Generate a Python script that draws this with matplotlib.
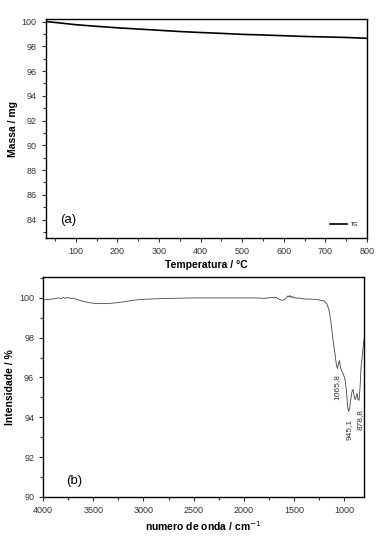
import matplotlib.pyplot as plt
from matplotlib.ticker import MultipleLocator

plt.rcParams['font.family'] = ['Liberation Sans', 'DejaVu Sans']

# (a) TG curve
temp = [30, 60, 100, 150, 200, 250, 300, 350, 400, 450, 500, 550, 600, 650, 700, 750, 800]
massa = [100.0, 99.9, 99.75, 99.62, 99.5, 99.4, 99.3, 99.2, 99.12, 99.05, 98.97, 98.92, 98.86, 98.8, 98.76, 98.72, 98.65]

# (b) IR spectrum
onda = [4000, 3950, 3900, 3850, 3820, 3800, 3780, 3760, 3740, 3720, 3700, 3680, 3650,
        3600, 3550, 3500, 3450, 3400, 3350, 3300, 3200, 3100, 3000, 2900, 2800, 2700,
        2600, 2500, 2300, 2100, 1900, 1800, 1750, 1720, 1700, 1680, 1660, 1640, 1620,
        1600, 1580, 1560, 1550, 1540, 1530, 1520, 1510, 1500, 1480, 1460, 1400, 1300,
        1250, 1200, 1170, 1150, 1130, 1110, 1090, 1075, 1065, 1055, 1045, 1035, 1020,
        1005, 990, 975, 965, 955, 945, 935, 920, 910, 900, 890, 880, 870, 860, 850,
        840, 830, 820, 810, 800]
intens = [99.9, 99.92, 99.95, 100.0, 99.97, 100.02, 99.98, 100.01, 100.0, 99.97, 99.99, 99.95, 99.9,
          99.83, 99.77, 99.73, 99.72, 99.71, 99.72, 99.74, 99.8, 99.88, 99.93, 99.95, 99.97, 99.98,
          99.99, 100.0, 100.0, 100.0, 100.0, 99.98, 100.0, 100.03, 100.0, 100.04, 99.97, 99.92, 99.88,
          99.9, 99.97, 100.1, 100.05, 100.12, 100.03, 100.08, 100.0, 100.05, 99.98, 100.0, 99.95, 99.93,
          99.9, 99.85, 99.7, 99.4, 98.8, 97.9, 97.2, 96.6, 96.45, 96.7, 96.85, 96.5, 96.3,
          96.15, 95.9, 95.3, 94.6, 94.3, 94.4, 94.8, 95.3, 95.4, 95.1, 94.9, 95.0, 95.2, 94.9, 94.85,
          95.5, 96.5, 97.0, 97.5, 97.9]

picos = ['1065,8', '945,1', '878,8']
picos_x = [1075, 945, 840]
picos_y = [95.5, 93.4, 93.9]

fig = plt.figure(figsize=(3.82, 5.40), dpi=100)
ax1 = fig.add_axes([0.120, 0.559, 0.841, 0.406])
ax2 = fig.add_axes([0.113, 0.080, 0.840, 0.407])

ax1.plot(temp, massa, color='black', lw=1.2, label='TG')
ax1.set_xlim(28, 800)
ax1.set_ylim(82.5, 100.22)
ax1.xaxis.set_major_locator(MultipleLocator(100))
ax1.xaxis.set_minor_locator(MultipleLocator(50))
ax1.yaxis.set_major_locator(MultipleLocator(2))
ax1.yaxis.set_minor_locator(MultipleLocator(1))
ax1.set_xlabel('Temperatura / °C', fontsize=7.5, fontweight='bold', labelpad=3)
ax1.set_ylabel('Massa / mg', fontsize=7.5, fontweight='bold', labelpad=3)
ax1.text(0.045, 0.07, '(a)', transform=ax1.transAxes, fontsize=9.5)
ax1.legend(loc='lower right', fontsize=4, frameon=False, handlelength=3,
           bbox_to_anchor=(0.99, 0.03))

ax2.plot(onda, intens, color='#444444', lw=0.6)
ax2.set_xlim(4000, 800)
ax2.set_ylim(90, 101.05)
ax2.xaxis.set_major_locator(MultipleLocator(500))
ax2.xaxis.set_minor_locator(MultipleLocator(250))
ax2.yaxis.set_major_locator(MultipleLocator(2))
ax2.yaxis.set_minor_locator(MultipleLocator(1))
ax2.set_xlabel('numero de onda / cm$^{-1}$', fontsize=7.5, fontweight='bold', labelpad=3)
ax2.set_ylabel('Intensidade / %', fontsize=7.5, fontweight='bold', labelpad=3)
ax2.text(0.07, 0.06, '(b)', transform=ax2.transAxes, fontsize=9.5)
for lab, px, py in zip(picos, picos_x, picos_y):
    ax2.text(px, py, lab, rotation=90, fontsize=6, color='#333333',
             ha='center', va='center')

for ax in (ax1, ax2):
    ax.tick_params(which='both', direction='out', top=False, right=False,
                   labelsize=6.5, colors='#333333', width=0.8)
    ax.tick_params(which='major', length=3)
    ax.tick_params(which='minor', length=2)
    for s in ax.spines.values():
        s.set_linewidth(1.0)

fig.savefig('out.png', dpi=100)
